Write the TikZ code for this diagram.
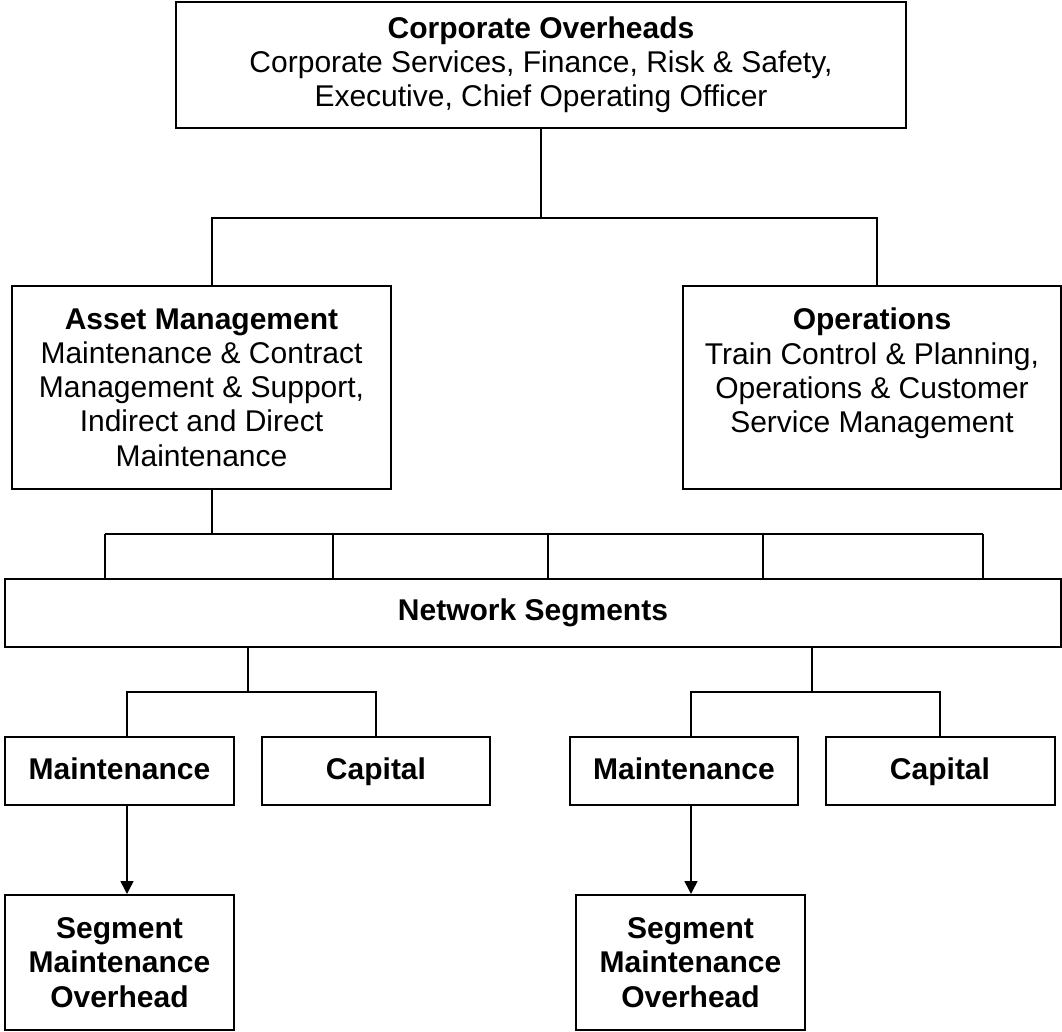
\documentclass[tikz,border=0pt]{standalone}
\usepackage{fontspec}
\setmainfont{Liberation Sans}
\usepackage{tikz}
\usetikzlibrary{arrows.meta}

\begin{document}
\begin{tikzpicture}[x=0.5pt,y=-0.5pt,
  unit/.style={shape=rectangle,draw=black,line width=1pt,align=center,inner sep=0pt,
    font=\fontsize{15}{17.1}\selectfont},
  leaf/.style={unit,text height=11pt,text depth=3pt},
  feeds/.style={line width=0.8pt},
  allocates/.style={line width=0.8pt,-{Triangle[length=6.5pt,width=6.5pt]}}]
\useasboundingbox (0,0) rectangle (1062,1032);
\node[unit,minimum width=365pt,minimum height=63pt] (CO) at (541,65) {\textbf{Corporate Overheads}\\Corporate Services, Finance, Risk \& Safety,\\Executive, Chief Operating Officer};
\node[unit,minimum width=189.5pt,minimum height=101.5pt] (AM) at (201.5,387.5) {\textbf{Asset Management}\\Maintenance \& Contract\\Management \& Support,\\Indirect and Direct\\Maintenance};
\node[unit,minimum width=189pt,minimum height=101.5pt] (OP) at (872,387.5) {\textbf{Operations}\\Train Control \& Planning,\\Operations \& Customer\\Service Management\\ \mbox{}};
\node[leaf,minimum width=528pt,minimum height=34pt] (NS) at (533,613) {\textbf{Network Segments}};
\node[leaf,minimum width=114.5pt,minimum height=34pt] (ML) at (119.5,771) {\textbf{Maintenance}};
\node[leaf,minimum width=114pt,minimum height=34pt] (CL) at (376,771) {\textbf{Capital}};
\node[leaf,minimum width=114pt,minimum height=34pt] (MR) at (684,771) {\textbf{Maintenance}};
\node[leaf,minimum width=114.5pt,minimum height=34pt] (CR) at (940,771) {\textbf{Capital}};
\node[unit,minimum width=114.5pt,minimum height=67.5pt] (SL) at (119.5,962.5) {\textbf{Segment}\\\textbf{Maintenance}\\\textbf{Overhead}};
\node[unit,minimum width=114.5pt,minimum height=67.5pt] (SR) at (690.5,962.5) {\textbf{Segment}\\\textbf{Maintenance}\\\textbf{Overhead}};
% corporate to divisions
\coordinate (top split) at (541,218);
\draw[feeds] (CO.south) -- (top split);
\draw[feeds] (AM.north -| 212,0) |- (top split) -| (OP.north -| 877,0);
% asset management to segments
\coordinate (seg bus) at (212,534);
\draw[feeds] (AM.south -| 212,0) -- (seg bus);
\draw[feeds] (105,534) -- (983,534);
\foreach \x in {105,333,548,763,983}
  \draw[feeds] (\x,534) -- (NS.north -| \x,0);
% segments to maintenance / capital
\coordinate (left split) at (248,692);
\coordinate (right split) at (812,692);
\draw[feeds] (NS.south -| left split) -- (left split);
\draw[feeds] (NS.south -| right split) -- (right split);
\draw[feeds] (ML.north -| 127,0) |- (left split) -| (CL.north);
\draw[feeds] (MR.north -| 691,0) |- (right split) -| (CR.north);
% maintenance overheads
\draw[allocates] (ML.south -| 127,0) -- (SL.north -| 127,0);
\draw[allocates] (MR.south -| 691,0) -- (SR.north -| 691,0);
\end{tikzpicture}
\end{document}
